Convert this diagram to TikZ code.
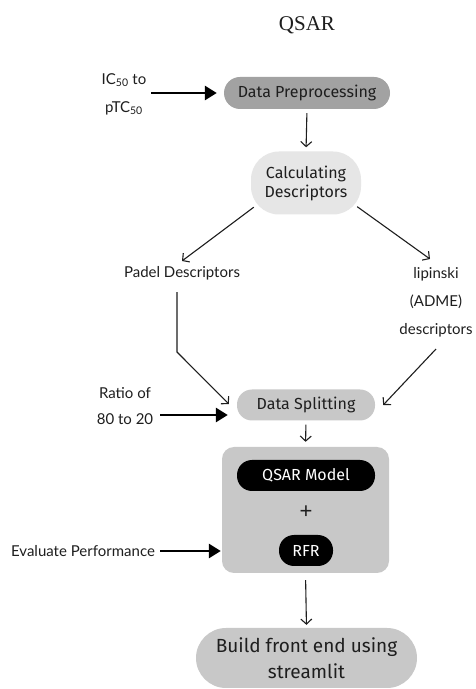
\documentclass[tikz,border=0pt]{standalone}
\usepackage{fontspec}
\setmainfont{Lato}
\newfontfamily\boxfont{Fira Sans}
\newfontfamily\titlefont{Liberation Serif}
\newfontfamily\plusfont{Liberation Sans}
\usetikzlibrary{arrows.meta}
\definecolor{dpgray}{HTML}{A2A2A2}
\definecolor{lgray}{HTML}{E6E6E6}
\definecolor{mgray}{HTML}{C8C8C8}
\definecolor{ink}{HTML}{1E1E1E}
\tikzset{
  x=1pt,y=1pt,
  pill/.style={rectangle, rounded corners=#1, inner sep=0pt, align=center, text=ink,
    font=\boxfont\fontsize{16}{19}\selectfont},
  lbl/.style={inner sep=3pt, align=center, text=ink, font=\fontsize{15}{28}\selectfont},
  thin arrow/.style={line width=1.1pt, ink, -{Straight Barb[length=5pt,width=11pt]}},
  fat arrow/.style={line width=2.8pt, black, -{Triangle[length=12pt,width=14pt]}},
}
\begin{document}
\begin{tikzpicture}
\useasboundingbox (0,0) rectangle (475,689);
\fill[white] (0,0) rectangle (475,689);

\node[font=\titlefont\fontsize{21}{24}\selectfont, text=ink] (title) at (307,664) {QSAR};

\node[pill=16pt, fill=dpgray, minimum width=166pt, minimum height=32pt] (dp) at (307,596) {Data Preprocessing};
\node[pill=28pt, fill=lgray, minimum width=110pt, minimum height=63pt] (calc) at (306,506) {Calculating\\Descriptors};
\node[lbl] (padel) at (182,416) {Padel Descriptors};
\node[lbl] (lip) at (436,387) {lipinski\\(ADME)\\descriptors};
\node[pill=15pt, fill=mgray, minimum width=138pt, minimum height=31pt] (ds) at (306,284) {Data Splitting};
\node[rectangle, rounded corners=12pt, fill=mgray, minimum width=167pt, minimum height=126pt] (big) at (305.5,179) {};
\node[pill=15pt, fill=black, text=white, minimum width=138pt, minimum height=31pt] (qm) at (306,213.5) {QSAR Model};
\node[font=\plusfont\fontsize{22}{24}\selectfont, inner sep=0pt, text=ink] (plus) at (306,177) {+};
\node[pill=15pt, fill=black, text=white, minimum width=54pt, minimum height=31pt] (rfr) at (306,138.5) {RFR};
\node[pill=30pt, fill=mgray, minimum width=221pt, minimum height=60pt, font=\boxfont\fontsize{19}{26}\selectfont] (build) at (306.5,31) {Build front end using\\streamlit};

\node[lbl] (ic) at (124,595) {IC\textsubscript{50} to\\pTC\textsubscript{50}};
\node[lbl, font=\fontsize{15}{26}\selectfont] (ratio) at (125,283) {Ratio of\\80 to 20};
\node[lbl] (eval) at (83,138) {Evaluate Performance};

\coordinate (pbend) at (177,337);

\draw[fat arrow] ([xshift=2pt]ic.east |- dp.west) -- ([xshift=-7pt]dp.west);
\draw[fat arrow] ([xshift=4pt,yshift=-9pt]ratio.east) -- ([xshift=-9pt,yshift=-10pt]ds.west);
\draw[fat arrow] ([xshift=2pt]eval.east) -- ([xshift=-1pt,yshift=-41pt]big.west);

\draw[thin arrow, shorten <=4pt, shorten >=4pt] (dp.south) -- (calc.north);
\draw[thin arrow] ([xshift=3pt,yshift=7.5pt]calc.south west) -- ([yshift=2pt]padel.north);
\draw[thin arrow] ([xshift=-4pt,yshift=8pt]calc.south east) -- ([xshift=-6pt,yshift=5pt]lip.north);
\draw[thin arrow] ([xshift=-5pt,yshift=-9pt]padel.south) -- (pbend) -- ([xshift=-8pt,yshift=1pt]ds.west);
\draw[thin arrow] ([yshift=-9pt]lip.south) -- ([xshift=8pt]ds.east);
\draw[thin arrow, shorten <=4pt, shorten >=5pt] (ds.south) -- (big.north);
\draw[thin arrow, shorten <=7pt, shorten >=3pt] (big.south) -- (build.north);
\end{tikzpicture}
\end{document}
